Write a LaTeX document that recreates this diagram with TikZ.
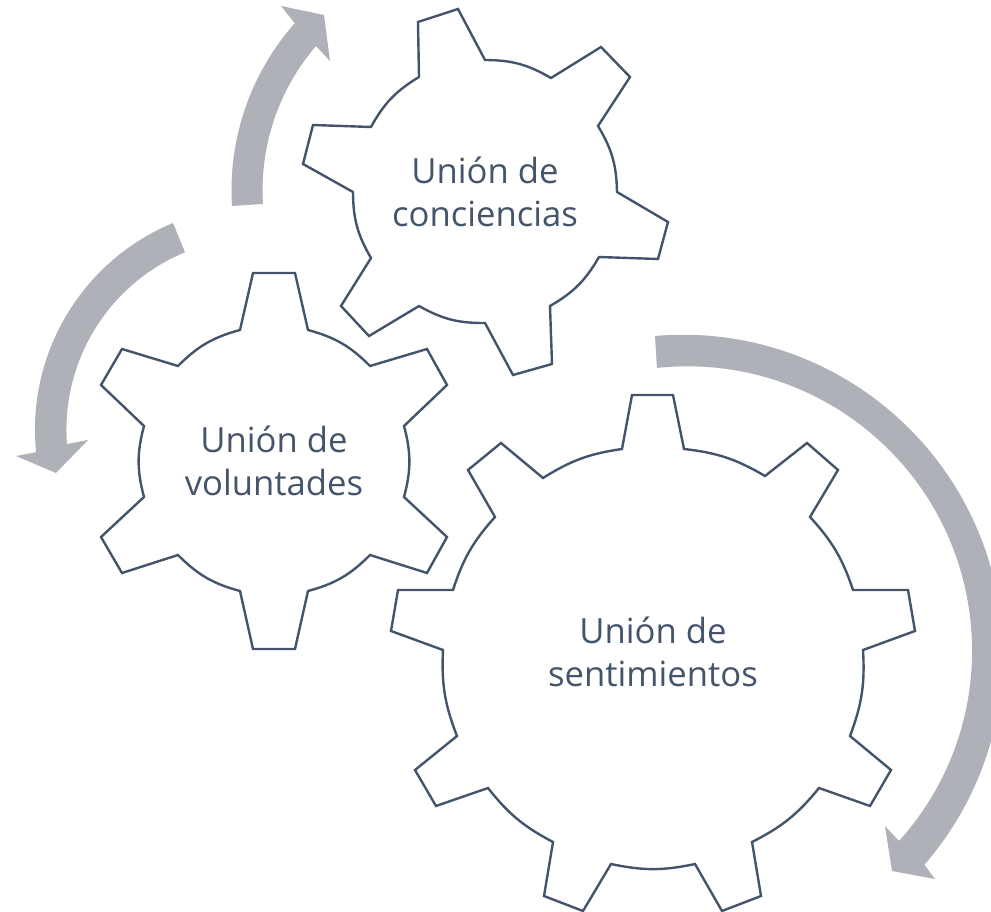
\documentclass[tikz,border=0pt]{standalone}
\usepackage{fontspec}
\setmainfont{Open Sans}
\tikzset{
  gearline/.style={draw=gearcol,line width=1.8pt,line join=miter,fill=none},
  sweep/.style={fill=sweepcol,draw=none},
  small arc/.style={bend left=15},
  big arc/.style={bend left=12},
  gearlabel/.style={text=gearcol,align=center,font=\fontsize{26}{32}\selectfont,inner sep=0pt}
}
\definecolor{gearcol}{HTML}{44546A}
\definecolor{sweepcol}{HTML}{AEB1B8}
\begin{document}
\begin{tikzpicture}[x=0.75pt,y=-0.75pt]
\useasboundingbox (0,0) rectangle (991,912);
\clip (0,0) rectangle (991,912);
% sweeping arrows
\fill[sweep] (232,206) arc[start angle=176.4,end angle=221.5,radius=252]
  -- (281,6) -- (324,15) -- (330,61) -- (316,46)
  arc[start angle=220.7,end angle=176.4,radius=221] -- cycle;
\fill[sweep] (173,223) arc[start angle=247.5,end angle=174.2,radius=223.6]
  -- (16,456) -- (56,473) -- (88,440) -- (67,444)
  arc[start angle=175.7,end angle=247.5,radius=192] -- cycle;
\fill[sweep] (655,336) arc[start angle=-95,end angle=41,radius=320]
  -- (935,879) -- (892,871) -- (885,826) -- (899,841)
  arc[start angle=42,end angle=-96.2,radius=284.4] -- cycle;
% top gear
\draw[gearline] (418,22) -- (458,9) -- (485,60) to[small arc] (551,78) -- (601,47) -- (630,77) -- (598,126)
  to[small arc] (617,192) -- (668,222) -- (658,259) -- (599,257)
  to[small arc] (550,306) -- (552,364) -- (513,375) -- (485,323)
  to[small arc] (419,306) -- (369,336) -- (341,306) -- (371,258)
  to[small arc] (353,192) -- (303,164) -- (313,125) -- (371,127)
  to[small arc] (419,77) -- cycle;
% left gear
\draw[gearline] (253,273) -- (295,273) -- (308,330) to[small arc] (370,366) -- (427,349) -- (447,385) -- (404,426)
  to[small arc] (404,497) -- (447,537) -- (427,573) -- (370,555)
  to[small arc] (308,591) -- (295,649) -- (253,649) -- (240,591)
  to[small arc] (178,555) -- (122,573) -- (101,537) -- (144,497)
  to[small arc] (144,426) -- (101,385) -- (122,349) -- (178,366)
  to[small arc] (240,330) -- cycle;
% big gear
\draw[gearline] (632,395) -- (673,395) -- (684,449) to[big arc] (765,476) -- (807,443) -- (838,470) -- (810,517)
  to[big arc] (853,590) -- (908,590) -- (915,631) -- (863,650)
  to[big arc] (850,736) -- (891,770) -- (870,806) -- (819,788)
  to[big arc] (752,842) -- (761,896) -- (722,911) -- (695,864)
  to[big arc] (611,864) -- (583,911) -- (544,896) -- (553,842)
  to[big arc] (488,788) -- (436,806) -- (415,770) -- (457,736)
  to[big arc] (443,650) -- (391,631) -- (398,590) -- (453,590)
  to[big arc] (495,517) -- (468,470) -- (501,443) -- (543,478)
  to[big arc] (622,449) -- cycle;
% labels
\node[gearlabel] (conciencias) at (485,192) {Unión de\\conciencias};
\node[gearlabel] (voluntades) at (274,461) {Unión de\\voluntades};
\node[gearlabel] (sentimientos) at (653,652) {Unión de\\sentimientos};
\end{tikzpicture}
\end{document}
